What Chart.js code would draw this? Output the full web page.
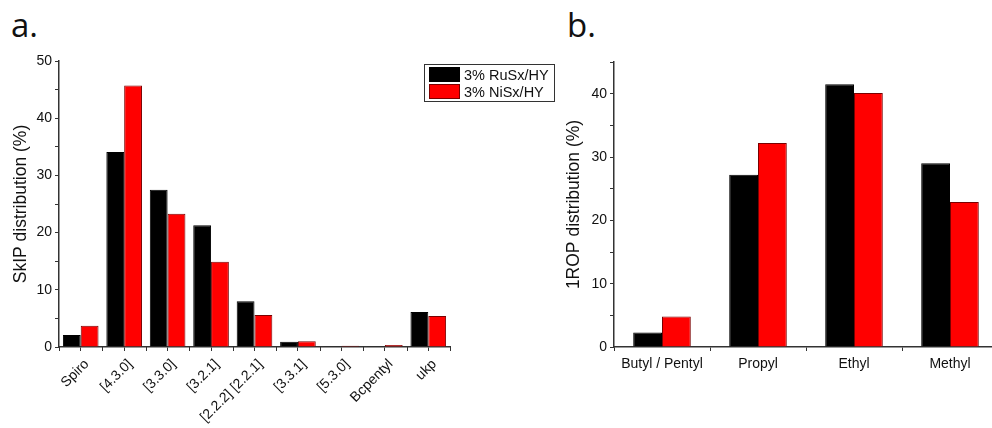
<!DOCTYPE html>
<html>
<head>
<meta charset="utf-8">
<script src="https://cdn.jsdelivr.net/npm/chart.js@4/dist/chart.umd.min.js"></script>
<style>
  html, body { margin: 0; padding: 0; background: #fff; overflow: hidden; }
  body { width: 992px; height: 428px; position: relative; }
  canvas { position: absolute; top: 0; }
  #chartA { left: 0; }
  #chartB { left: 540px; }
  .panel { position: absolute; font-family: "Open Sans", "Noto Sans", sans-serif; font-size: 33px; color: #111; line-height: 1; }
  #legend { position: absolute; left: 424px; top: 64px; width: 129px; border: 1px solid #333;
    font-family: "Liberation Sans", Arial, sans-serif; font-size: 14.5px; color: #111; padding: 1px 0; }
  #legend div { display: flex; align-items: center; height: 17px; }
  #legend span.sw { display: inline-block; width: 31px; height: 15px; margin: 0 4px 0 4px; box-sizing: border-box; }
</style>
</head>
<body>
<div class="panel" style="left:11px; top:8px;">a.</div>
<div class="panel" style="left:567px; top:8px;">b.</div>
<canvas id="chartA" width="500" height="428"></canvas>
<canvas id="chartB" width="460" height="428"></canvas>
<div id="legend"></div>
<script>
// series names and colours
var seriesNames = ["3% RuSx/HY", "3% NiSx/HY"];
var seriesColors = ["#000000", "#ff0000"];
var seriesBorders = ["#000000", "#7a0000"];

// panel a: skeletal isomer products
var skipLabels = ["Spiro", "[4.3.0]", "[3.3.0]", "[3.2.1]", "[2.2.2] [2.2.1]", "[3.3.1]", "[5.3.0]", "Bcpentyl", "ukp"];
var skipRu = [2.1, 34.1, 27.5, 21.3, 8.0, 0.9, 0.15, 0.15, 6.1];
var skipNi = [3.7, 45.7, 23.3, 14.9, 5.6, 1.0, 0.2, 0.35, 5.4];

// panel b: ring opening products
var ropLabels = ["Butyl / Pentyl", "Propyl", "Ethyl", "Methyl"];
var ropRu = [2.3, 27.2, 41.5, 29.0];
var ropNi = [4.8, 32.2, 40.1, 22.9];

var axisColor = "#333333";
var tickFont = { family: "Liberation Sans, Arial, sans-serif", size: 14 };

// legend
var legendEl = document.getElementById("legend");
seriesNames.forEach(function (name, i) {
	var row = document.createElement("div");
	var sw = document.createElement("span");
	sw.className = "sw";
	sw.style.background = seriesColors[i];
	sw.style.border = "1px solid " + seriesBorders[i];
	row.appendChild(sw);
	row.appendChild(document.createTextNode(name));
	legendEl.appendChild(row);
});

function makeSets(a, b) {
	return [a, b].map(function (vals, i) {
		return {
			label: seriesNames[i],
			data: vals,
			backgroundColor: seriesColors[i],
			borderColor: seriesBorders[i],
			borderWidth: 1,
			borderSkipped: "bottom",
		};
	});
}

// extra tick marks between categories (panel a has ticks at centres and boundaries)
var boundaryTicks = {
	id: "boundaryTicks",
	afterDraw: function (chart) {
		var x = chart.scales.x;
		var ctx = chart.ctx;
		ctx.save();
		ctx.strokeStyle = axisColor;
		ctx.lineWidth = 1;
		for (var i = 0; i <= x.getLabels().length; i++) {
			var px = Math.round(x.getPixelForValue(i - 0.5)) + 0.5;
			ctx.beginPath();
			ctx.moveTo(px, x.top);
			ctx.lineTo(px, x.top + 4);
			ctx.stroke();
		}
		ctx.restore();
	},
};

function yAxis(max, title, width) {
	return {
		min: 0,
		max: max,
		ticks: {
			stepSize: 5,
			color: "#111",
			font: tickFont,
			padding: 3,
			callback: function (v) { return v % 10 === 0 ? v : ""; },
		},
		grid: { drawOnChartArea: false, drawTicks: true, tickLength: 4, color: axisColor },
		border: { color: axisColor, width: 1.5 },
		title: { display: true, text: title, color: "#111", font: { family: "Liberation Sans, Arial, sans-serif", size: 17.5 }, padding: 0 },
		afterFit: function (s) { s.width = width; },
	};
}

new Chart(document.getElementById("chartA"), {
	type: "bar",
	data: { labels: skipLabels, datasets: makeSets(skipRu, skipNi) },
	plugins: [boundaryTicks],
	options: {
		responsive: false,
		animation: false,
		categoryPercentage: 0.82,
		barPercentage: 1,
		layout: { padding: { top: 61, right: 50, left: 11, bottom: 0 } },
		plugins: { legend: { display: false }, tooltip: { enabled: false } },
		scales: {
			x: {
				ticks: { color: "#111", font: tickFont, minRotation: 45, maxRotation: 45, padding: 5, labelOffset: 6 },
				grid: { drawOnChartArea: false, offset: false, tickLength: 4, color: axisColor },
				border: { color: axisColor, width: 1.5 },
				afterFit: function (s) { s.height = 81; },
			},
			y: yAxis(50, "SkIP distribution (%)", 48),
		},
	},
});

new Chart(document.getElementById("chartB"), {
	type: "bar",
	data: { labels: ropLabels, datasets: makeSets(ropRu, ropNi) },
	options: {
		responsive: false,
		animation: false,
		categoryPercentage: 0.6,
		barPercentage: 1,
		layout: { padding: { top: 62, right: 2, left: 24, bottom: 0 } },
		plugins: { legend: { display: false }, tooltip: { enabled: false } },
		scales: {
			x: {
				ticks: { color: "#111", font: tickFont, maxRotation: 0, padding: 5 },
				grid: { drawOnChartArea: false, offset: true, tickLength: 4, color: axisColor },
				border: { color: axisColor, width: 1.5 },
				afterFit: function (s) { s.height = 81; },
			},
			y: yAxis(45, "1ROP distribution (%)", 50),
		},
	},
});
</script>
</body>
</html>
